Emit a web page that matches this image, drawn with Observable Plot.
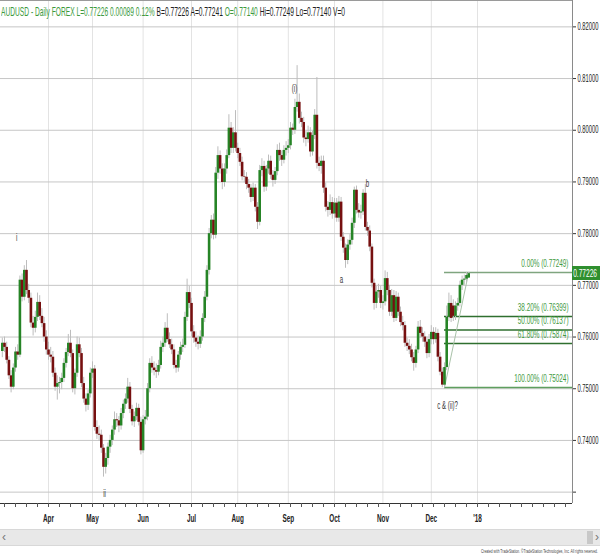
<!DOCTYPE html>
<html><head><meta charset="utf-8">
<script src="https://cdn.jsdelivr.net/npm/d3@7"></script>
<script src="https://cdn.jsdelivr.net/npm/@observablehq/plot@0.6"></script>
<style>
body{margin:0;background:#fff;}
#wrap{position:relative;width:600px;height:556px;overflow:hidden;background:#fff;font-family:"Liberation Sans",Arial,sans-serif;}
#chart{position:absolute;left:0;top:0;}
#title{position:absolute;left:1px;top:5px;font-size:13px;line-height:14px;white-space:nowrap;transform-origin:0 0;color:#222;}
#title .g{color:#3c9a3c;}
#scroll{position:absolute;left:0;top:529px;width:600px;height:15px;background:#e8e8e8;border-top:1px solid #d8d8d8;border-bottom:1px solid #d8d8d8;}
#scroll .l,#scroll .r{position:absolute;top:0;font-size:12px;line-height:15px;color:#777;}
#scroll .l{left:2px;} #scroll .r{right:1px;}
#scroll .thumb{position:absolute;left:587px;top:1px;width:6px;height:13px;background:#c8c8c8;}
#caption{position:absolute;right:2px;top:548px;font-size:6px;line-height:7px;white-space:nowrap;color:#444;transform-origin:100% 0;}
#last{position:absolute;left:572px;width:28px;height:14px;background:#2f8f2f;color:#fff;font-size:11px;line-height:14px;white-space:nowrap;overflow:visible;}
#last span{display:inline-block;transform-origin:0 50%;padding-left:2px;}
</style></head>
<body><div id="wrap"><div id="chart"></div>
<div id="title"><span class="g">AUDUSD - Daily FOREX L=0.77226 0.00089 0.12%</span> B=0.77226 A=0.77241 <span class="g">O=0.77140</span> Hi=0.77249 Lo=0.77140 V=0</div>
<div id="scroll"><span class="l">‹</span><div class="thumb"></div><span class="r">›</span></div>
<div id="caption">Created with TradeStation. ©TradeStation Technologies, Inc. All rights reserved.</div>
</div>
<script>
// trading-day index of first candle (0 = first trading day of April 2017)
const startIndex = -21;
const opens = [
.7572,.7588,.7580,.7555,.7525,.7503,.7540,.7571,.7565,.7710,
.7677,.7729,.7690,.7675,.7627,.7617,.7638,.7667,.7640,.7626,
.7600,.7575,.7565,.7561,.7530,.7503,.7510,.7512,.7520,.7549,
.7570,.7588,.7568,.7500,.7530,.7585,.7568,.7510,.7480,.7468,
.7490,.7530,.7538,.7425,.7412,.7410,.7385,.7348,.7365,.7387,
.7400,.7420,.7440,.7438,.7428,.7452,.7470,.7480,.7503,.7460,
.7436,.7446,.7462,.7435,.7380,.7440,.7445,.7500,.7549,.7540,
.7535,.7532,.7545,.7580,.7588,.7617,.7595,.7585,.7575,.7545,
.7540,.7565,.7580,.7584,.7638,.7686,.7665,.7610,.7598,.7590,
.7586,.7600,.7636,.7677,.7729,.7800,.7826,.7797,.7917,.7951,
.7925,.7899,.7925,.7951,.8004,.7965,.7995,.7965,.7955,.7938,
.7910,.7909,.7895,.7888,.7870,.7888,.7851,.7822,.7922,.7930,
.7890,.7925,.7940,.7913,.7903,.7920,.7961,.7951,.7942,.7961,
.7965,.7970,.8004,.8000,.8044,.8054,.8023,.8015,.7985,.7982,
.7995,.7958,.7990,.8029,.7936,.7930,.7940,.7888,.7851,.7845,
.7860,.7838,.7859,.7830,.7861,.7793,.7772,.7748,.7778,.7787,
.7820,.7884,.7845,.7840,.7842,.7878,.7812,.7805,.7774,.7704,
.7665,.7687,.7690,.7665,.7668,.7713,.7690,.7648,.7680,.7636,
.7677,.7648,.7628,.7622,.7588,.7582,.7575,.7560,.7549,.7575,
.7619,.7607,.7600,.7590,.7568,.7595,.7609,.7595,.7607,.7561,
.7532,.7507,.7541,.7638,.7665,.7660,.7640,.7660,.7665,.7700,
.7710,.7712,.77140];
const highs = [
.7598,.7600,.7590,.7562,.7535,.7548,.7580,.7585,.7718,.7722,
.7738,.7748,.7702,.7685,.7640,.7650,.7685,.7680,.7655,.7638,
.7612,.7590,.7580,.7572,.7540,.7525,.7522,.7530,.7558,.7578,
.7605,.7613,.7575,.7538,.7600,.7598,.7578,.7522,.7490,.7498,
.7540,.7552,.7545,.7438,.7428,.7420,.7392,.7375,.7395,.7410,
.7428,.7455,.7452,.7446,.7462,.7478,.7490,.7520,.7512,.7468,
.7455,.7472,.7470,.7445,.7448,.7458,.7510,.7558,.7562,.7552,
.7548,.7555,.7592,.7600,.7628,.7645,.7608,.7596,.7585,.7555,
.7572,.7590,.7596,.7648,.7712,.7698,.7675,.7622,.7610,.7602,
.7612,.7645,.7688,.7738,.7810,.7835,.7838,.7928,.7968,.7960,
.7935,.7935,.7962,.8030,.8015,.8005,.8038,.7975,.7965,.7948,
.7922,.7918,.7905,.7895,.7898,.7895,.7860,.7932,.7945,.7940,
.7932,.7952,.7950,.7922,.7928,.7972,.7975,.7960,.7970,.7978,
.7982,.8015,.8012,.8060,.8125,.8070,.8035,.8025,.7998,.8008,
.8005,.7998,.8040,.8102,.7948,.7950,.7950,.7898,.7862,.7875,
.7870,.7868,.7868,.7872,.7870,.7802,.7780,.7788,.7798,.7830,
.7890,.7892,.7858,.7855,.7885,.7895,.7822,.7815,.7780,.7712,
.7698,.7702,.7698,.7680,.7728,.7725,.7700,.7692,.7690,.7688,
.7685,.7658,.7640,.7630,.7598,.7595,.7586,.7570,.7582,.7630,
.7632,.7618,.7610,.7600,.7605,.7622,.7618,.7618,.7615,.7570,
.7540,.7550,.7660,.7685,.7680,.7672,.7668,.7675,.7708,.7718,
.7720,.7725,.77249];
const lows = [
.7560,.7570,.7548,.7518,.7492,.7498,.7532,.7555,.7560,.7668,
.7670,.7682,.7665,.7618,.7602,.7608,.7630,.7632,.7618,.7590,
.7565,.7555,.7550,.7522,.7495,.7478,.7490,.7498,.7512,.7540,
.7562,.7560,.7492,.7488,.7522,.7560,.7502,.7472,.7455,.7458,
.7482,.7520,.7418,.7402,.7398,.7375,.7329,.7335,.7352,.7375,
.7390,.7410,.7425,.7415,.7420,.7442,.7460,.7472,.7452,.7428,
.7425,.7438,.7428,.7372,.7375,.7430,.7438,.7492,.7530,.7525,
.7520,.7525,.7538,.7570,.7580,.7590,.7578,.7566,.7538,.7530,
.7532,.7555,.7570,.7578,.7630,.7655,.7600,.7588,.7580,.7575,
.7578,.7592,.7628,.7670,.7720,.7790,.7788,.7790,.7905,.7915,
.7885,.7890,.7915,.7945,.7955,.7955,.7958,.7945,.7930,.7902,
.7898,.7885,.7878,.7860,.7862,.7842,.7808,.7815,.7910,.7880,
.7882,.7915,.7905,.7890,.7895,.7912,.7940,.7930,.7935,.7950,
.7955,.7962,.7990,.7992,.8035,.8012,.8005,.7975,.7968,.7975,
.7948,.7950,.7982,.7925,.7920,.7915,.7878,.7842,.7832,.7835,
.7828,.7830,.7822,.7822,.7785,.7762,.7733,.7740,.7768,.7778,
.7810,.7838,.7830,.7828,.7835,.7805,.7795,.7765,.7695,.7652,
.7655,.7675,.7655,.7652,.7660,.7680,.7640,.7640,.7628,.7630,
.7640,.7620,.7612,.7580,.7572,.7566,.7552,.7534,.7540,.7568,
.7598,.7590,.7580,.7558,.7560,.7585,.7585,.7588,.7552,.7525,
.7502,.7502,.7535,.7630,.7628,.7630,.7632,.7650,.7658,.7690,
.7700,.7705,.77140];
const closes = [
.7588,.7580,.7555,.7525,.7503,.7540,.7571,.7565,.7710,.7677,
.7729,.7690,.7675,.7627,.7617,.7638,.7667,.7640,.7626,.7600,
.7575,.7565,.7561,.7530,.7503,.7510,.7512,.7520,.7549,.7570,
.7588,.7568,.7500,.7530,.7585,.7568,.7510,.7480,.7468,.7490,
.7530,.7538,.7425,.7412,.7410,.7385,.7348,.7365,.7387,.7400,
.7420,.7440,.7438,.7428,.7452,.7470,.7480,.7503,.7460,.7436,
.7446,.7462,.7435,.7380,.7440,.7445,.7500,.7549,.7540,.7535,
.7532,.7545,.7580,.7588,.7617,.7595,.7585,.7575,.7545,.7540,
.7565,.7580,.7584,.7638,.7686,.7665,.7610,.7598,.7590,.7586,
.7600,.7636,.7677,.7729,.7800,.7826,.7797,.7917,.7951,.7925,
.7899,.7925,.7951,.8004,.7965,.7995,.7965,.7955,.7938,.7910,
.7909,.7895,.7888,.7870,.7888,.7851,.7822,.7922,.7930,.7890,
.7925,.7940,.7913,.7903,.7920,.7961,.7951,.7942,.7961,.7965,
.7970,.8004,.8000,.8044,.8054,.8023,.8015,.7985,.7982,.7995,
.7958,.7990,.8029,.7936,.7930,.7940,.7888,.7851,.7845,.7860,
.7838,.7859,.7830,.7861,.7793,.7772,.7748,.7778,.7787,.7820,
.7884,.7845,.7840,.7842,.7878,.7812,.7805,.7774,.7704,.7665,
.7687,.7690,.7665,.7668,.7713,.7690,.7648,.7680,.7636,.7677,
.7648,.7628,.7622,.7588,.7582,.7575,.7560,.7549,.7575,.7619,
.7607,.7600,.7590,.7568,.7595,.7609,.7595,.7607,.7561,.7532,
.7507,.7541,.7638,.7665,.7636,.7640,.7660,.7665,.7700,.7710,
.7712,.7719,.77226];

// x axis: trading-day index of each month's first session, and labels
const monthStarts = [0, 20, 43, 65, 86, 109, 130, 152, 174, 195];
const monthLabels = ["Apr","May","Jun","Jul","Aug","Sep","Oct","Nov","Dec","'18"];
const priceTicks = [0.73,0.74,0.75,0.76,0.77,0.78,0.79,0.80,0.81,0.82];
const xDomain = [-21.82, 238.18];
const yDomain = [0.7278, 0.8251];

// Fibonacci retracement
const fibLabels = ["0.00% (0.77249)","38.20% (0.76399)","50.00% (0.76137)","61.80% (0.75874)","100.00% (0.75024)"];
const fibValues = [0.77249, 0.76399, 0.76137, 0.75874, 0.75024];
const fibColors = ["#7fa57f","#2f6f2f","#2f6f2f","#2f6f2f","#5f9f5f"];
const fibStart = 180, fibEnd = 191;

// Elliott wave annotations
const waveText = ["i","ii","(i)","a","b","c & (ii)?"];
const waveX = [-14.5, 25.5, 111.8, 133.2, 145, 181.4];
const waveY = [0.7793, 0.7298, 0.8081, 0.7712, 0.7897, 0.7468];

const lastClose = 0.77226;

const candles = opens.map((o, k) => ({t: startIndex + k, o, h: highs[k], l: lows[k], c: closes[k]}));
const fibs = fibValues.map((v, k) => ({v, label: fibLabels[k], color: fibColors[k]}));
const waves = waveText.map((t, k) => ({t, x: waveX[k], y: waveY[k]}));
const weekTicks = d3.range(-20, 238, 5);

const chart = Plot.plot({
  width: 600, height: 530,
  marginLeft: 0, marginRight: 28, marginTop: 0, marginBottom: 27,
  x: {type: "linear", domain: xDomain, axis: null},
  y: {domain: yDomain, axis: null},
  style: {fontFamily: "'Liberation Sans', Arial, sans-serif", background: "#fff", overflow: "visible"},
  marks: [
    Plot.ruleX(monthStarts, {stroke: "#e3e3e3"}),
    Plot.gridY(priceTicks, {stroke: "#c6c6c6", strokeOpacity: 1}),
    Plot.ruleY([yDomain[1]], {stroke: "#9a9a9a"}),
    Plot.ruleX([xDomain[1]], {stroke: "#8a8a8a"}),
    Plot.ruleY(fibs, {y: "v", x1: fibStart, x2: xDomain[1], stroke: "color", strokeWidth: 1.5}),
    Plot.link([0], {x1: fibStart, y1: fibValues[4], x2: fibEnd, y2: fibValues[0], stroke: "#a9c2a9", strokeWidth: 1}),
    Plot.ruleX(candles, {x: "t", y1: "l", y2: "h", stroke: "#bdbdbd", strokeWidth: 1}),
    Plot.ruleX(candles, {x: "t", y1: "o", y2: "c", stroke: d => d.c >= d.o ? "#268426" : "#761010", strokeWidth: 2.6}),
    Plot.text(fibs, {x: xDomain[1], y: "v", text: "label", textAnchor: "end", dx: -4, dy: -9, fill: "#3f9a3f", fontSize: 11}),
    Plot.text(waves, {x: "x", y: "y", text: "t", fill: "#333", fontSize: 10.5}),
    Plot.axisY(priceTicks, {anchor: "right", tickSize: 3, tickPadding: 2, tickFormat: d => d < 0.735 ? "" : d.toFixed(5), fontSize: 10, stroke: "#333", fill: "#222"}),
    Plot.ruleY([yDomain[0]], {stroke: "#333", strokeWidth: 1.2}),
    Plot.axisX(weekTicks, {anchor: "bottom", tickSize: 4, tickFormat: () => "", stroke: "#555"}),
    Plot.axisX(monthStarts, {anchor: "bottom", tickSize: 0, tickPadding: 11, tickFormat: d => monthLabels[monthStarts.indexOf(d)], fontSize: 11, fontWeight: "bold", fill: "#222"})
  ]
});
document.getElementById("chart").appendChild(chart);

// narrow the lettering the way the source rendering does
chart.querySelectorAll("text").forEach(t => {
  const len = t.getComputedTextLength();
  if (len > 0) {
    t.setAttribute("textLength", (len * 0.58).toFixed(2));
    t.setAttribute("lengthAdjust", "spacingAndGlyphs");
  }
});

// last price tag on the right axis
const ySc = chart.scale("y");
const tag = document.createElement("div");
tag.id = "last";
tag.style.top = (ySc.apply(lastClose) - 7) + "px";
tag.innerHTML = "<span>" + lastClose.toFixed(5) + "</span>";
document.getElementById("wrap").appendChild(tag);
const sp = tag.querySelector("span");
sp.style.transform = "scaleX(" + (25 / sp.getBoundingClientRect().width).toFixed(3) + ")";

const title = document.getElementById("title");
title.style.transform = "scaleX(" + (344 / title.getBoundingClientRect().width).toFixed(3) + ")";
const cap = document.getElementById("caption");
cap.style.transform = "scaleX(" + (117 / cap.getBoundingClientRect().width).toFixed(3) + ")";
</script>
</body></html>
